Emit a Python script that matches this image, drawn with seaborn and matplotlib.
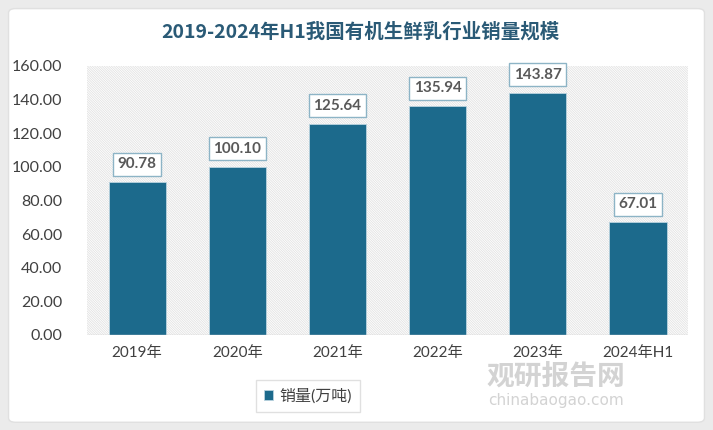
import matplotlib
matplotlib.use("Agg")
import matplotlib.pyplot as plt
import seaborn as sns
import pandas as pd
from matplotlib.patches import FancyBboxPatch, Rectangle

categories = ["2019年", "2020年", "2021年", "2022年", "2023年", "2024年H1"]
values = [90.78, 100.10, 125.64, 135.94, 143.87, 67.01]
series_name = "销量(万吨)"
title = "2019-2024年H1我国有机生鲜乳行业销量规模"
yticks = [0, 20, 40, 60, 80, 100, 120, 140, 160]

sns.set_theme(style="white")
plt.rcParams['font.family'] = ['Lato', 'Noto Sans CJK SC', 'DejaVu Sans']
plt.rcParams['hatch.linewidth'] = 0.6
plt.rcParams['hatch.color'] = '#e2e2e2'

df = pd.DataFrame({"cat": categories, "val": values, "series": series_name})

fig = plt.figure(figsize=(7.13, 4.30), dpi=100, facecolor='#ebebeb')
bg = FancyBboxPatch((0.012, 0.018), 0.976, 0.962, boxstyle="round,pad=0,rounding_size=0.01",
                    transform=fig.transFigure, facecolor='white', edgecolor='#e0e0e0', zorder=-5)
fig.patches.append(bg)

ax = fig.add_axes([0.122, 0.221, 0.843, 0.626])
ax.set_facecolor('none')
ax.add_patch(Rectangle((0, 0), 1, 1, transform=ax.transAxes, facecolor='white',
                       edgecolor='#e2e2e2', hatch='\\' * 14, linewidth=0, zorder=0))

sns.barplot(data=df, x="cat", y="val", hue="series", palette=['#1c6a8c'], saturation=1,
            width=0.57, ax=ax, zorder=2, edgecolor='#b9d3df', linewidth=0.6)

for i, v in enumerate(values):
    ax.annotate(f"{v:.2f}", xy=(i, v), xytext=(0, 13), textcoords='offset points',
                ha='center', va='center', fontsize=11, fontweight='bold', color='#595959',
                family=['Lato', 'DejaVu Sans'],
                bbox=dict(boxstyle='square,pad=0.3', facecolor='white', edgecolor='#8db4c6', linewidth=1))

ax.set_ylim(0, 160)
ax.set_xlim(-0.5, len(categories) - 0.5)
ax.set_yticks(yticks)
ax.set_yticklabels([f"{t:.2f}" for t in yticks], fontsize=11.5, color='#404040')
for lab in ax.get_xticklabels():
    lab.set_fontsize(11)
ax.tick_params(axis='x', labelcolor='#404040', pad=8, length=0)
ax.tick_params(axis='y', length=0, pad=18)
ax.set_xlabel("")
ax.set_ylabel("")
for s in ax.spines.values():
    s.set_visible(False)
ax.axhline(0, color='#d0d0d0', lw=1, zorder=3)

ax.legend_.remove()
handles, labels = ax.get_legend_handles_labels()
leg = fig.legend(handles, labels, loc='center', bbox_to_anchor=(0.432, 0.079), frameon=True,
                 fontsize=11.5, handlelength=0.6, handleheight=0.6, handletextpad=0.4,
                 borderpad=0.5, fancybox=False)
leg.get_frame().set_edgecolor('#d9d9d9')
leg.get_frame().set_linewidth(1)
for t in leg.get_texts():
    t.set_color('#404040')

fig.text(0.505, 0.927, title, ha='center', va='center', fontsize=14, fontweight='bold',
         color='#2a5a76', family=['Noto Sans CJK SC', 'DejaVu Sans'])

# watermark
fig.text(0.78, 0.125, "观研报告网", ha='center', va='center', fontsize=20, fontweight='bold',
         color='#c8c8c8', alpha=0.8, zorder=5, family=['Noto Sans CJK SC'])
fig.text(0.78, 0.068, "chinabaogao.com", ha='center', va='center', fontsize=11,
         color='#c8c8c8', alpha=0.8, zorder=5, family=['DejaVu Sans'])

fig.savefig("out.png", dpi=100, facecolor=fig.get_facecolor())
